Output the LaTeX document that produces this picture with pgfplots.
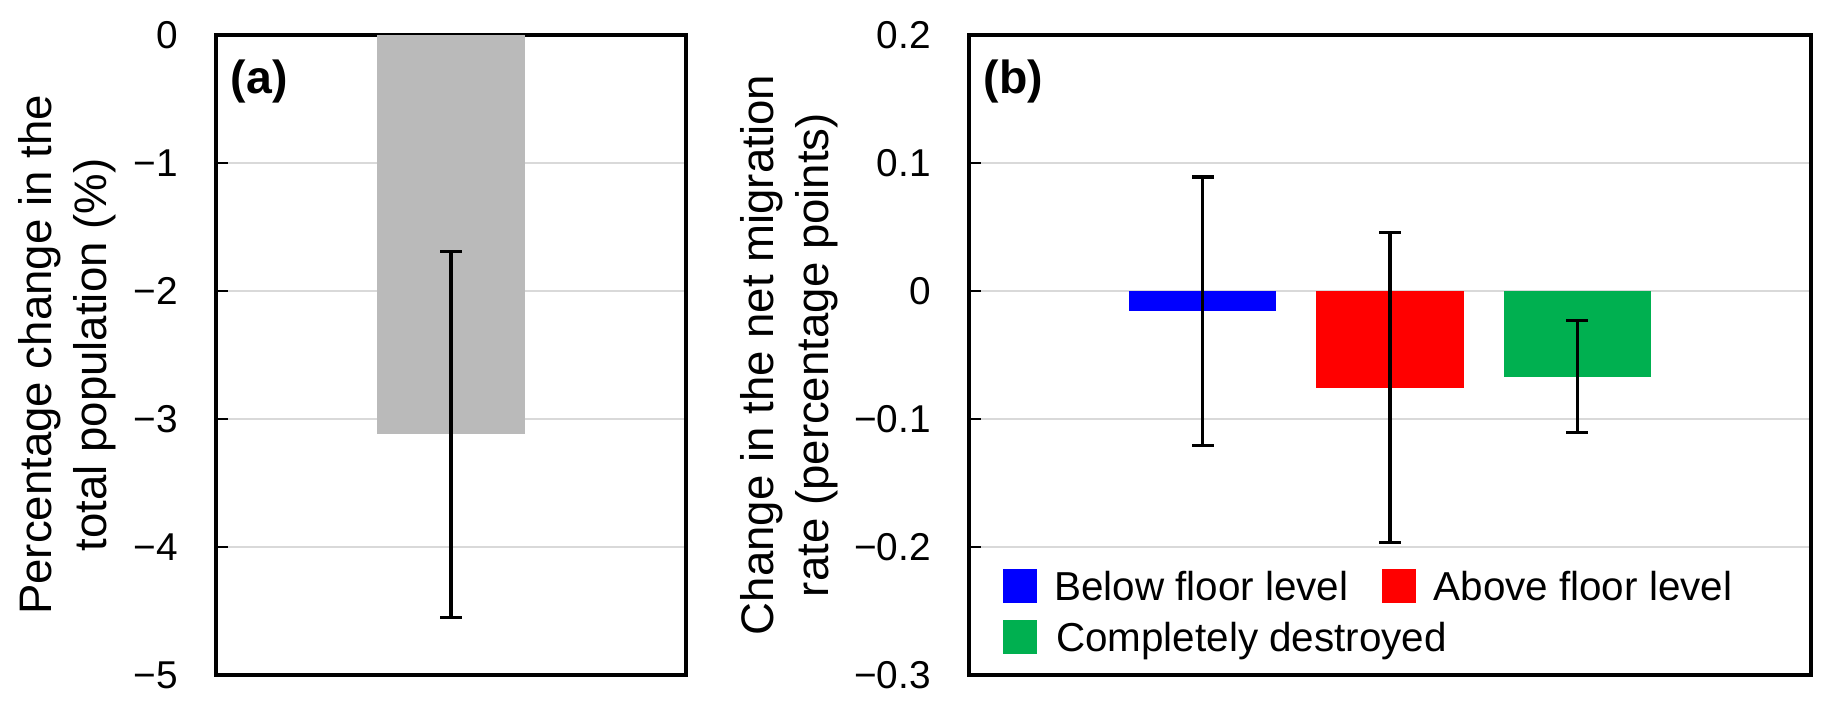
\documentclass[border=0pt]{standalone}
\usepackage{pgfplots}
\pgfplotsset{compat=1.18}
\usepackage{fontspec}
\setmainfont{Liberation Sans}
\definecolor{bargray}{HTML}{BABABA}
\definecolor{gridgray}{HTML}{D9D9D9}
\definecolor{mygreen}{HTML}{00B050}
\pgfplotsset{
  myaxis/.style={
    scale only axis, height=160pt,
    axis line style={line width=0.8pt, black},
    tick align=inside, ytick pos=left, xtick=\empty, major tick length=3pt,
    tick style={line width=0.6pt, black},
    ymajorgrids, grid style={line width=0.65pt, gridgray},
    yticklabel style={font=\fontsize{9.7}{11}\selectfont, xshift=-6pt},
    ylabel style={font=\fontsize{11.4}{13.75}\selectfont, align=center, anchor=center},
    error bars/error bar style={line width=0.8pt, black},
    error bars/error mark options={rotate=90, mark size=2.7pt, line width=0.8pt, black},
  }
}
\begin{document}
\begin{tikzpicture}
\useasboundingbox (0,0) rectangle (457.5pt,177pt);
\begin{axis}[myaxis, at={(54pt,8.25pt)}, anchor=south west, width=117.5pt,
  xmin=0, xmax=1, ymin=-5, ymax=0,
  ytick={-5,-4,-3,-2,-1,0}, yticklabels={−5,−4,−3,−2,−1,0},
  ylabel={Percentage change in the\\total population (\%)},
  ylabel style={at={(axis description cs:-0.316,0.5)}}]
\addplot[ybar, bar width=0.3128, bar shift=0pt, fill=bargray, draw=none,
  error bars/.cd, y dir=both, y explicit] coordinates {(0.5,-3.12) +- (0,1.43)};
\node[anchor=base west, font=\fontsize{11.6}{14}\selectfont\bfseries, inner sep=0pt] at (rel axis cs:0.0298,0.908) {(a)};
\end{axis}
\begin{axis}[myaxis, at={(242.25pt,8.25pt)}, anchor=south west, width=210.5pt,
  xmin=-0.25, xmax=4.25, ymin=-0.3, ymax=0.2,
  ytick={-0.3,-0.2,-0.1,0,0.1,0.2}, yticklabels={−0.3,−0.2,−0.1,0,0.1,0.2},
  ylabel={Change in the net migration\\rate (percentage points)},
  ylabel style={at={(axis description cs:-0.214,0.5)}},
  legend style={at={(0.0404,0.1656)}, anchor=north west, draw=none, fill=none,
    inner sep=0pt, outer sep=0pt, font=\fontsize{10.1}{12}\selectfont,
    row sep=4.25pt, nodes={inner sep=0pt, text height=7.3pt, text depth=0pt},
    /tikz/every odd column/.style={column sep=4.3pt},
    /tikz/every even column/.style={column sep=8.5pt}},
  legend columns=2, legend cell align=left,
  legend image code/.code={\fill[#1] (0pt,-4.25pt) rectangle (8.5pt,4.25pt);}]
\addplot[ybar, bar width=0.786, bar shift=0pt, fill=blue, draw=none,
  error bars/.cd, y dir=both, y explicit] coordinates {(1,-0.016) +- (0,0.105)};
\addlegendentry{Below floor level}
\addplot[ybar, bar width=0.786, bar shift=0pt, fill=red, draw=none,
  error bars/.cd, y dir=both, y explicit] coordinates {(2,-0.0755) +- (0,0.121)};
\addlegendentry{Above floor level}
\addplot[ybar, bar width=0.786, bar shift=0pt, fill=mygreen, draw=none,
  error bars/.cd, y dir=both, y explicit] coordinates {(3,-0.0668) +- (0,0.0435)};
\addlegendentry{\rlap{Completely destroyed}}
\node[anchor=base west, font=\fontsize{11.6}{14}\selectfont\bfseries, inner sep=0pt] at (rel axis cs:0.0166,0.908) {(b)};
\end{axis}
\end{tikzpicture}
\end{document}
